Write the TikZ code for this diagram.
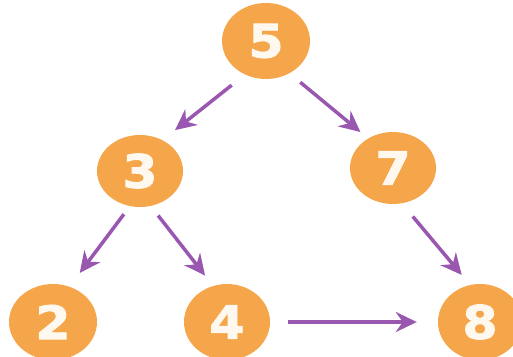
\documentclass[tikz,border=0pt]{standalone}
\usepackage{fontspec}
\newfontfamily\numfont[FakeStretch=1.1,FakeBold=2]{DejaVu Sans}
\usetikzlibrary{shapes.geometric,arrows.meta}
\definecolor{nodeorange}{HTML}{F5A54A}
\definecolor{arrowpurple}{HTML}{9A57B0}
\definecolor{numwhite}{HTML}{FFF8EE}
\begin{document}
\begin{tikzpicture}[x=1pt,y=-1pt,
  num/.style={ellipse, fill=nodeorange, draw=none, inner sep=0pt,
    text=numwhite, font=\numfont\bfseries\fontsize{46}{46}\selectfont},
  link/.style={draw=arrowpurple, line width=3.5pt,
    -{Stealth[length=21pt,width=20pt,inset=7pt]}}]
\useasboundingbox (0,0) rectangle (513,356);
\node[num, minimum width=88pt, minimum height=76pt] (n5) at (266,41) {5};
\node[num, minimum width=86pt, minimum height=72pt] (n3) at (140,171) {3};
\node[num, minimum width=86pt, minimum height=72pt] (n7) at (393,168) {7};
\node[num, minimum width=88pt, minimum height=76pt] (n2) at (53,322) {2};
\node[num, minimum width=86pt, minimum height=76pt] (n4) at (227,322) {4};
\node[num, minimum width=84pt, minimum height=76pt] (n8) at (480,322) {8};
\draw[link, shorten <=17pt, shorten >=16pt] (n5.238) -- (n3.54);
\draw[link, shorten <=14pt, shorten >=10pt] (n5.306) -- (n7.130);
\draw[link, shorten <=10pt, shorten >=17pt] (n3.254) -- (n2.65);
\draw[link, shorten <=12pt, shorten >=13pt] (n3.287) -- (n4.111);
\draw[link, shorten <=17pt, shorten >=13pt] (n7.284) -- (n8.105);
\draw[link, shorten <=18pt, shorten >=21pt] (n4.east) -- (n8.west);
\end{tikzpicture}
\end{document}
